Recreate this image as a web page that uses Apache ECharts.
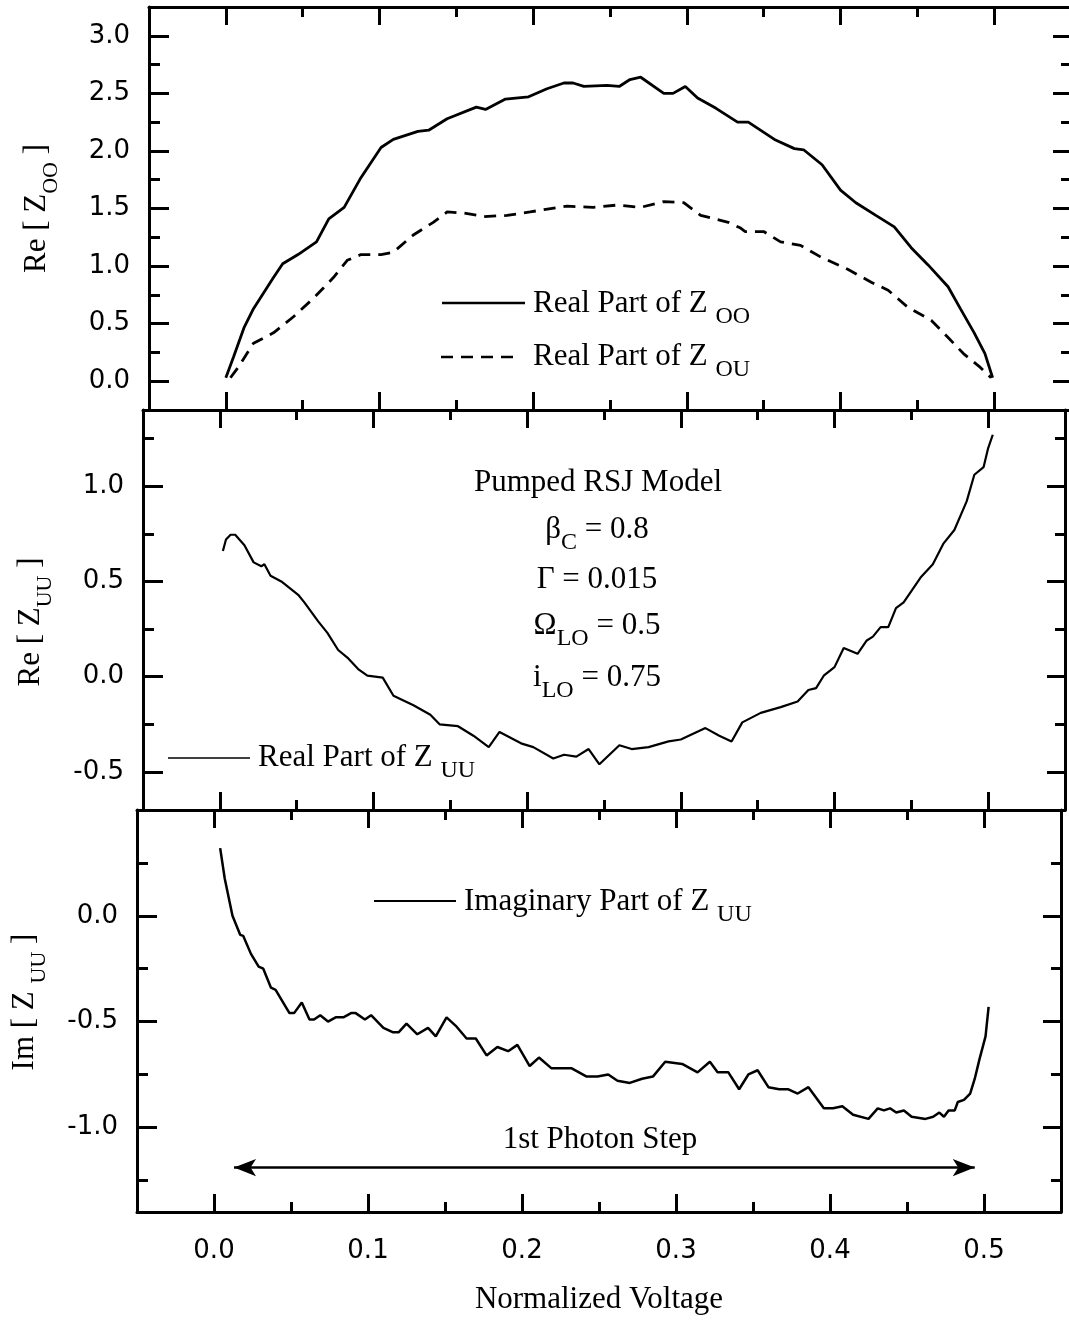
<!DOCTYPE html>
<html><head><meta charset="utf-8">
<script src="https://cdn.jsdelivr.net/npm/echarts@6/dist/echarts.min.js"></script>
<style>html,body{margin:0;padding:0;background:#fff}#c{width:1069px;height:1321px}</style>
</head><body><div id="c"></div>
<script>
// ---------- data ----------
const xTickMajor = [0.0, 0.1, 0.2, 0.3, 0.4, 0.5];
const xTickMinor = [0.05, 0.15, 0.25, 0.35, 0.45];
const topYMajor = [0, 0.5, 1.0, 1.5, 2.0, 2.5, 3.0];
const topYMinor = [0.25, 0.75, 1.25, 1.75, 2.25, 2.75];
const midYMajor = [-0.5, 0, 0.5, 1.0];
const midYMinor = [-0.25, 0.25, 0.75, 1.25];
const botYMajor = [-1.0, -0.5, 0];
const botYMinor = [-1.25, -0.75, -0.25, 0.25];

// Real part of Z_OO (solid, top panel)
const reZooPts = [[0.000,0.03],[0.005,0.21],[0.012,0.47],[0.018,0.63],[0.031,0.90],[0.037,1.02],[0.047,1.10],[0.059,1.21],[0.067,1.41],[0.077,1.51],[0.088,1.77],[0.101,2.03],[0.109,2.10],[0.125,2.17],[0.132,2.18],[0.144,2.28],[0.163,2.38],[0.169,2.36],[0.182,2.45],[0.197,2.47],[0.209,2.54],[0.220,2.59],[0.226,2.59],[0.233,2.56],[0.248,2.57],[0.256,2.56],[0.263,2.62],[0.270,2.64],[0.285,2.50],[0.291,2.50],[0.299,2.56],[0.307,2.46],[0.319,2.37],[0.333,2.25],[0.340,2.25],[0.357,2.10],[0.370,2.02],[0.376,2.01],[0.388,1.88],[0.400,1.66],[0.410,1.55],[0.423,1.44],[0.435,1.34],[0.446,1.16],[0.457,1.01],[0.470,0.82],[0.478,0.63],[0.487,0.42],[0.494,0.24],[0.499,0.03]];
// Real part of Z_OU (dashed, top panel)
const reZouPts = [[0.003,0.03],[0.008,0.12],[0.018,0.33],[0.031,0.42],[0.044,0.56],[0.057,0.72],[0.070,0.90],[0.079,1.05],[0.088,1.10],[0.101,1.10],[0.109,1.12],[0.122,1.27],[0.135,1.38],[0.144,1.47],[0.155,1.46],[0.168,1.43],[0.183,1.44],[0.198,1.47],[0.207,1.49],[0.222,1.52],[0.239,1.51],[0.255,1.53],[0.270,1.51],[0.285,1.56],[0.298,1.55],[0.309,1.44],[0.327,1.38],[0.335,1.33],[0.338,1.30],[0.350,1.30],[0.361,1.21],[0.374,1.18],[0.387,1.08],[0.405,0.97],[0.420,0.86],[0.431,0.79],[0.444,0.64],[0.459,0.53],[0.470,0.38],[0.480,0.24],[0.491,0.12],[0.498,0.03]];
// Real part of Z_UU (middle panel)
const reZuuPts = [[0.002,0.66],[0.004,0.72],[0.007,0.745],[0.010,0.745],[0.016,0.69],[0.022,0.60],[0.027,0.58],[0.029,0.59],[0.033,0.53],[0.040,0.50],[0.051,0.43],[0.055,0.39],[0.064,0.29],[0.070,0.23],[0.077,0.14],[0.083,0.10],[0.090,0.04],[0.096,0.005],[0.106,-0.005],[0.113,-0.10],[0.126,-0.15],[0.137,-0.20],[0.143,-0.25],[0.155,-0.26],[0.165,-0.31],[0.175,-0.37],[0.182,-0.29],[0.196,-0.35],[0.204,-0.37],[0.217,-0.43],[0.224,-0.41],[0.232,-0.42],[0.240,-0.38],[0.247,-0.46],[0.260,-0.36],[0.268,-0.38],[0.279,-0.37],[0.292,-0.34],[0.300,-0.33],[0.316,-0.27],[0.325,-0.31],[0.333,-0.34],[0.340,-0.24],[0.352,-0.19],[0.365,-0.16],[0.376,-0.13],[0.383,-0.07],[0.388,-0.06],[0.393,0.005],[0.400,0.05],[0.406,0.15],[0.415,0.12],[0.421,0.19],[0.425,0.21],[0.430,0.26],[0.435,0.26],[0.440,0.36],[0.445,0.39],[0.456,0.52],[0.464,0.59],[0.471,0.70],[0.478,0.77],[0.486,0.92],[0.491,1.06],[0.497,1.10],[0.500,1.20],[0.503,1.27]];
// Imaginary part of Z_UU (bottom panel)
const imZuuPts = [[0.004,0.32],[0.007,0.175],[0.012,0.0],[0.017,-0.09],[0.019,-0.095],[0.024,-0.18],[0.029,-0.24],[0.032,-0.25],[0.037,-0.34],[0.040,-0.35],[0.049,-0.46],[0.052,-0.46],[0.057,-0.41],[0.062,-0.49],[0.065,-0.49],[0.069,-0.47],[0.074,-0.50],[0.079,-0.48],[0.084,-0.48],[0.089,-0.46],[0.092,-0.46],[0.098,-0.49],[0.102,-0.47],[0.110,-0.53],[0.116,-0.55],[0.120,-0.55],[0.125,-0.51],[0.132,-0.56],[0.139,-0.53],[0.144,-0.57],[0.151,-0.48],[0.157,-0.52],[0.164,-0.58],[0.170,-0.58],[0.177,-0.66],[0.184,-0.62],[0.191,-0.64],[0.197,-0.61],[0.205,-0.71],[0.211,-0.67],[0.219,-0.72],[0.224,-0.72],[0.232,-0.72],[0.242,-0.76],[0.249,-0.76],[0.256,-0.75],[0.262,-0.78],[0.270,-0.79],[0.278,-0.77],[0.285,-0.76],[0.293,-0.69],[0.304,-0.70],[0.314,-0.74],[0.322,-0.69],[0.327,-0.74],[0.334,-0.74],[0.341,-0.82],[0.347,-0.75],[0.353,-0.73],[0.360,-0.81],[0.367,-0.82],[0.373,-0.82],[0.379,-0.84],[0.386,-0.81],[0.396,-0.91],[0.402,-0.91],[0.408,-0.90],[0.415,-0.94],[0.425,-0.96],[0.431,-0.91],[0.435,-0.92],[0.439,-0.91],[0.443,-0.93],[0.448,-0.92],[0.453,-0.95],[0.462,-0.96],[0.467,-0.95],[0.471,-0.93],[0.474,-0.95],[0.477,-0.92],[0.481,-0.92],[0.483,-0.88],[0.487,-0.87],[0.491,-0.84],[0.494,-0.77],[0.497,-0.68],[0.501,-0.57],[0.503,-0.43]];
// "1st Photon Step" double arrow
const arrowX = [0.013, 0.494];
const arrowY = -1.19;

// ---------- styling ----------
const SANS = 'DejaVu Sans';
const SERIF = 'Liberation Serif';
const BLACK = '#000';
const richName = {
  m: { fontFamily: SERIF, fontSize: 31, lineHeight: 50, color: BLACK },
  s: { fontFamily: SERIF, fontSize: 22, lineHeight: 22, verticalAlign: 'bottom', color: BLACK }
};
const richG = {
  m: { fontFamily: SERIF, fontSize: 31, lineHeight: 50, fill: BLACK },
  s: { fontFamily: SERIF, fontSize: 24, lineHeight: 24, verticalAlign: 'bottom', fill: BLACK }
};

const grids = [
  { left: 149, top: 7, width: 922, height: 403 },
  { left: 143, top: 410, width: 922, height: 400 },
  { left: 137, top: 810, width: 924, height: 402 }
].map(g => Object.assign(g, { outerBoundsMode: 'none', containLabel: false }));

const yRanges = [[-0.25, 3.25], [-0.7, 1.4], [-1.4, 0.5]];
const yMajors = [topYMajor, midYMajor, botYMajor];
const yMinors = [topYMinor, midYMinor, botYMinor];
const yNames = ['{m|Re [ Z}{s|OO}{m| ]}', '{m|Re [ Z}{s|UU}{m| ]}', '{m|Im [ Z }{s|UU}{m| ]}'];
const yNamePad = [[0, 0, 0, 0], [0, 24, 0, 0], [0, 0, 0, 18]];

const tickStyle = { color: BLACK, width: 3 };
const frameLine = { show: true, onZero: false, lineStyle: { color: BLACK, width: 3 } };
const noLine = { show: false, onZero: false };

const xAxes = [], yAxes = [];
for (let g = 0; g < 3; g++) {
  const isBottom = g === 2;
  const xb = { gridIndex: g, type: 'value', min: -0.05, max: 0.55, splitLine: { show: false } };
  xAxes.push(Object.assign({}, xb, {
    position: 'bottom', axisLine: frameLine,
    axisTick: { show: true, inside: true, length: 18, customValues: xTickMajor, lineStyle: tickStyle },
    axisLabel: { show: isBottom, customValues: xTickMajor, formatter: v => v.toFixed(1), margin: 26, color: BLACK, fontFamily: SANS, fontSize: 26 },
    name: isBottom ? 'Normalized Voltage' : '', nameLocation: 'middle', nameGap: 72,
    nameTextStyle: { color: BLACK, fontFamily: SERIF, fontSize: 31 }
  }));
  xAxes.push(Object.assign({}, xb, {
    position: 'bottom', axisLine: noLine,
    axisTick: { show: true, inside: true, length: 10, customValues: xTickMinor, lineStyle: tickStyle },
    axisLabel: { show: false }
  }));
  xAxes.push(Object.assign({}, xb, {
    position: 'top', axisLine: frameLine,
    axisTick: { show: true, inside: true, length: 18, customValues: xTickMajor, lineStyle: tickStyle },
    axisLabel: { show: false }
  }));
  xAxes.push(Object.assign({}, xb, {
    position: 'top', axisLine: noLine,
    axisTick: { show: true, inside: true, length: 10, customValues: xTickMinor, lineStyle: tickStyle },
    axisLabel: { show: false }
  }));

  const yb = { gridIndex: g, type: 'value', min: yRanges[g][0], max: yRanges[g][1], splitLine: { show: false } };
  yAxes.push(Object.assign({}, yb, {
    position: 'left', axisLine: frameLine,
    axisTick: { show: true, inside: true, length: 20, customValues: yMajors[g], lineStyle: tickStyle },
    axisLabel: { show: true, customValues: yMajors[g], formatter: v => v.toFixed(1), margin: 19, color: BLACK, fontFamily: SANS, fontSize: 26 },
    name: yNames[g], nameLocation: 'middle', nameRotate: 90, nameGap: 87,
    nameTextStyle: { color: BLACK, fontFamily: SERIF, fontSize: 31, rich: richName, padding: yNamePad[g] }
  }));
  yAxes.push(Object.assign({}, yb, {
    position: 'left', axisLine: noLine,
    axisTick: { show: true, inside: true, length: 11, customValues: yMinors[g], lineStyle: tickStyle },
    axisLabel: { show: false }
  }));
  yAxes.push(Object.assign({}, yb, {
    position: 'right', axisLine: frameLine,
    axisTick: { show: true, inside: true, length: 18, customValues: yMajors[g], lineStyle: tickStyle },
    axisLabel: { show: false }
  }));
  yAxes.push(Object.assign({}, yb, {
    position: 'right', axisLine: noLine,
    axisTick: { show: true, inside: true, length: 10, customValues: yMinors[g], lineStyle: tickStyle },
    axisLabel: { show: false }
  }));
}

function lineSeries(name, pts, gi, width, type) {
  return {
    name, type: 'line', xAxisIndex: gi * 4, yAxisIndex: gi * 4, data: pts,
    symbol: 'none', showSymbol: false, smooth: false, animation: false, silent: true,
    lineStyle: { color: BLACK, width: width, type: type || 'solid' }, z: 5
  };
}

const series = [
  lineSeries('Real Part of Z_OO', reZooPts, 0, 2.8),
  lineSeries('Real Part of Z_OU', reZouPts, 0, 2.8, [12, 8]),
  lineSeries('Real Part of Z_UU', reZuuPts, 1, 2.2),
  lineSeries('Imaginary Part of Z_UU', imZuuPts, 2, 2.5)
];
series[3].markLine = {
  silent: true, animation: false, symbol: ['arrow', 'arrow'], symbolSize: [13, 22],
  lineStyle: { color: BLACK, width: 2.5, type: 'solid' }, label: { show: false },
  data: [[{ coord: [arrowX[0], arrowY] }, { coord: [arrowX[1], arrowY] }]]
};

function gText(x, y, text, align) {
  return { type: 'text', z: 20, silent: true,
    style: { x, y, text, align: align || 'left', verticalAlign: 'middle', rich: richG, fill: BLACK, font: '31px ' + SERIF } };
}
function gLine(x1, y1, x2, y2, w, dash) {
  return { type: 'line', z: 20, silent: true, shape: { x1, y1, x2, y2 },
    style: { stroke: BLACK, lineWidth: w, lineDash: dash || null } };
}

const graphic = [
  gLine(442, 303, 525, 303, 2.6),
  gText(533, 304, '{m|Real Part of Z }{s|OO}'),
  gLine(441, 357, 521, 357, 2.6, [12, 8]),
  gText(533, 357, '{m|Real Part of Z }{s|OU}'),
  gText(598, 483, '{m|Pumped RSJ Model}', 'center'),
  gText(597, 530, '{m|β}{s|C}{m| = 0.8}', 'center'),
  gText(597, 580, '{m|Γ = 0.015}', 'center'),
  gText(597, 626, '{m|Ω}{s|LO}{m| = 0.5}', 'center'),
  gText(597, 678, '{m|i}{s|LO}{m| = 0.75}', 'center'),
  gLine(168, 758, 250, 758, 1.6),
  gText(258, 758, '{m|Real Part of Z }{s|UU}'),
  gLine(374, 901, 456, 901, 2),
  gText(464, 902, '{m|Imaginary Part of Z }{s|UU}'),
  gText(600, 1140, '{m|1st Photon Step}', 'center')
];

const chart = echarts.init(document.getElementById('c'), null, { renderer: 'canvas', width: 1069, height: 1321 });
chart.setOption({
  animation: false,
  backgroundColor: '#fff',
  grid: grids,
  xAxis: xAxes,
  yAxis: yAxes,
  series,
  graphic
});
</script></body></html>
